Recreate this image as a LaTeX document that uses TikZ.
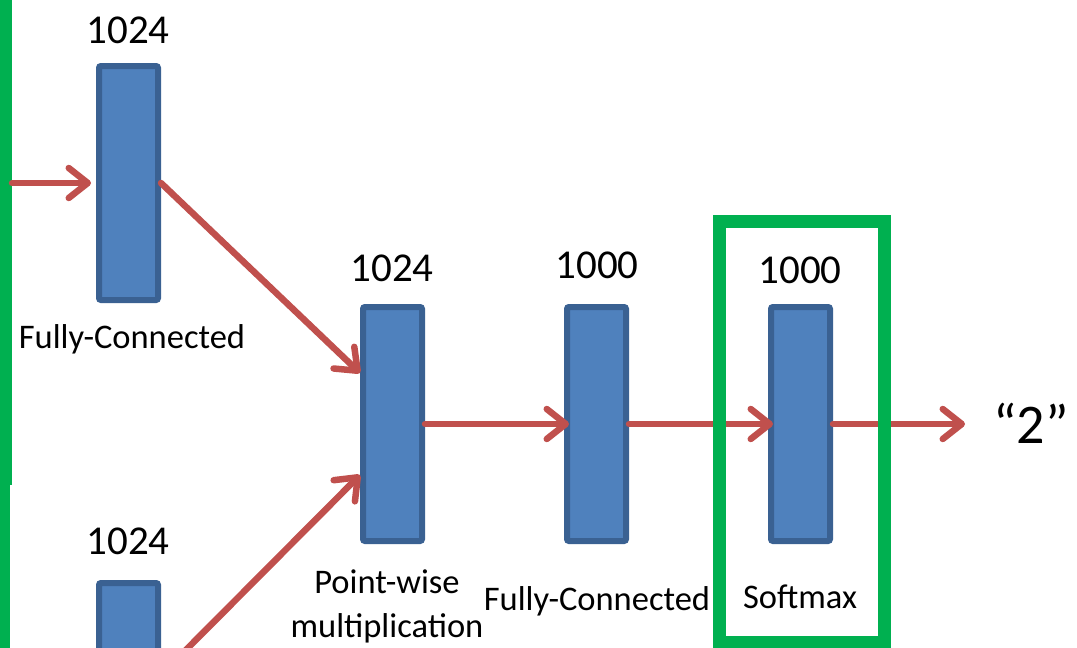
\documentclass[tikz,border=0pt]{standalone}
\usepackage{fontspec}
\setmainfont{Carlito}
\usetikzlibrary{arrows.meta}

\definecolor{layerfill}{HTML}{4F81BD}
\definecolor{layeredge}{HTML}{3A6192}
\definecolor{flowred}{HTML}{C0504D}
\definecolor{focusgreen}{HTML}{00B050}

\tikzset{
  layer/.style={rectangle, rounded corners=2pt, fill=layerfill, draw=layeredge,
    line width=6pt, minimum width=59pt, minimum height=234pt, inner sep=0pt},
  dimlabel/.style={anchor=base, inner sep=0pt, font=\fontsize{41}{49}\selectfont},
  namelabel/.style={anchor=base, inner sep=0pt, align=center,
    font=\fontsize{34.5}{44}\selectfont},
  flow/.style={draw=flowred, line width=6.5pt, line cap=round,
    -{Straight Barb[round, length=19pt, width=30pt]}},
  focus/.style={draw=focusgreen, line width=13pt},
}

\begin{document}
\begin{tikzpicture}[x=1pt, y=-1pt]
  \useasboundingbox (0,0) rectangle (1077,648);
  \clip (0,0) rectangle (1077,648);

  % edge of the neighbouring highlight frame
  \fill[focusgreen] (0,0) rectangle (12,485);
  \fill[focusgreen] (0,485) rectangle (10,648);

  % layers
  \node[layer] (fc1) at (128.5,183) {};
  \node[layer] (fc2) at (128.5,700) {};
  \node[layer] (pw)  at (392.5,424) {};
  \node[layer] (fc)  at (596.5,424) {};
  \node[layer] (sm)  at (800.5,424) {};

  % layer sizes
  \node[dimlabel] (d1) at (128,43)  {1024};
  \node[dimlabel] (d2) at (128,554) {1024};
  \node[dimlabel] (d3) at (392,281) {1024};
  \node[dimlabel] (d4) at (597,278) {1000};
  \node[dimlabel] (d5) at (800,283) {1000};

  % layer names (base of a two-line node is its last line)
  \node[namelabel] (n1) at (132,348) {Fully-Connected};
  \node[namelabel] (n2) at (387,637) {Point-wise\\multiplication};
  \node[namelabel] (n3) at (597,610) {Fully-Connected};
  \node[namelabel] (n4) at (800,608) {Softmax};

  % predicted answer
  \node[anchor=base, inner sep=0pt, font=\fontsize{56}{64}\selectfont] (ans) at (1031,443) {“2”};

  % connections
  \coordinate (inlet) at (12,183);
  \coordinate (outtip) at (965,424);
  \draw[flow, shorten >=5pt] (inlet) -- (fc1.west);
  \draw[flow] (fc1.east) -- ([yshift=51pt]pw.west);
  \draw[flow] ([yshift=25pt]fc2.east) -- ([yshift=-51pt]pw.west);
  \draw[flow, shorten >=-5pt] (pw.east) -- (fc.west);
  \draw[flow, shorten >=-5pt] (fc.east) -- (sm.west);
  \draw[flow] (sm.east) -- (outtip);

  % highlight frame around the softmax layer
  \draw[focus] (719.5,221.5) rectangle (884.5,642.5);
\end{tikzpicture}
\end{document}
